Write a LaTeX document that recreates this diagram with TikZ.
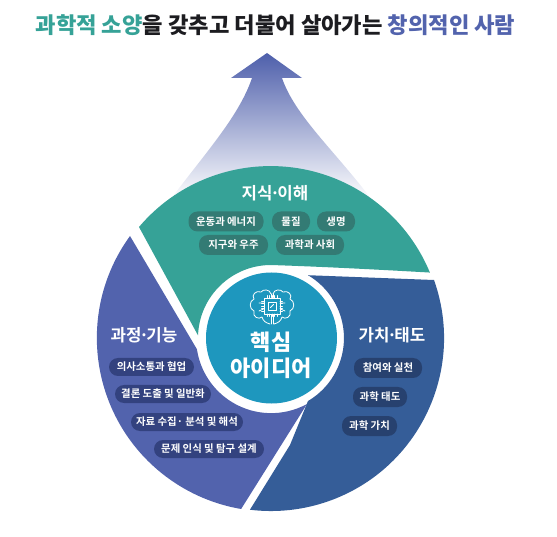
\documentclass[tikz,border=0pt]{standalone}
\usepackage{fontspec}
\setmainfont{Noto Sans CJK KR}[BoldFont={Noto Sans CJK KR Bold}]
\newfontfamily\heavyfont{Noto Sans CJK KR Black}
\definecolor{teal1}{HTML}{36A297}
\definecolor{purp1}{HTML}{5263AD}
\definecolor{blue1}{HTML}{355D98}
\definecolor{core1}{HTML}{1E97BE}
\definecolor{tealp}{HTML}{337B74}
\definecolor{purpp}{HTML}{33427F}
\definecolor{bluep}{HTML}{27416F}
\definecolor{arrowc}{HTML}{4E5FAB}
\definecolor{titlek}{HTML}{1C1C20}
\newcommand{\middot}{\hspace{-2.6pt}·\hspace{-2.6pt}}
\tikzset{
  pillbase/.style={rounded corners=9pt,inner sep=0pt,minimum height=20pt,text=white,font=\fontsize{10.4}{11}\selectfont\bfseries},
  tealpill/.style={pillbase,fill=tealp},
  purppill/.style={pillbase,fill=purpp,minimum height=18pt},
  bluepill/.style={pillbase,fill=bluep},
  heading/.style={text=white,inner sep=0pt,font=\fontsize{16.8}{18}\selectfont\bfseries},
  core/.style={text=white,inner sep=0pt,font=\fontsize{22}{24}\selectfont\heavyfont},
  iconline/.style={draw=white,line width=0.8pt,line cap=round,line join=round}
}
\begin{document}
\begin{tikzpicture}[x=1pt,y=1pt]
\useasboundingbox (0,0) rectangle (557,536);
% arrow
\shade[top color=arrowc,bottom color=white,shading angle=0]
  (267,483) -- (302,458) -- (282,458)
  .. controls (295,420) and (335,385) .. (372,336)
  -- (170,336)
  .. controls (207,385) and (239,420) .. (252,458)
  -- (231,458) -- cycle;
% sectors
\coordinate (C) at (271,198);
\fill[teal1] (139,309) arc[start angle=139.7,end angle=22.5,radius=172.5]
  .. controls (385,266) and (330,269) .. (271,271)
  arc[start angle=90,end angle=178,radius=73] -- cycle;
\fill[purp1] (130,300) arc[start angle=144,end angle=260.3,radius=173.5]
  -- (307,132) arc[start angle=298.6,end angle=188.5,radius=75] -- cycle;
\fill[blue1] (434,256) arc[start angle=19.6,end angle=-97,radius=173]
  -- (290,91) -- (308,135) arc[start angle=-59.5,end angle=59.5,radius=73] -- cycle;
\node[circle,fill=core1,draw=none,minimum size=131pt,inner sep=0pt] (core) at (271.5,198) {};
% icon
\begin{scope}[shift={(272,230)}]
\foreach \s in {1,-1}{
  \begin{scope}[xscale=\s]
  \draw[iconline] (1,12) .. controls (2,17) and (9,17) .. (11,14)
    .. controls (16,16) and (21,11) .. (18,7)
    .. controls (23,5) and (23,-3) .. (18,-5)
    .. controls (20,-11) and (13,-14) .. (10,-11)
    .. controls (9,-15) and (6,-17) .. (2,-18);
  \draw[iconline] (1,12) -- (1,8.5);
  \draw[iconline] (1,-18) -- (1,-8.5);
  \draw[iconline] (8.5,3) -- (13,3) (8.5,-3) -- (13,-5);
  \end{scope}}
\draw[iconline] (-8,-8) rectangle (8,8);
\draw[iconline] (-4,-4) rectangle (4,4);
\draw[iconline] (-1.5,-1.5) -- (1.5,1.5);
\foreach \p in {-5,-2.5,0,2.5,5}{
  \draw[iconline,line width=0.6pt] (\p,8) -- (\p,10.5) (\p,-8) -- (\p,-10.5) (8,\p) -- (10.5,\p) (-8,\p) -- (-10.5,\p);}
\end{scope}
% title
\node[inner sep=0pt,font=\fontsize{22.2}{25}\selectfont\heavyfont] (title) at (275.5,511)
 {\textcolor{teal1}{과학적 소양}\textcolor{titlek}{을 갖추고 더불어 살아가는} \textcolor{purp1}{창의적인 사람}};
% labels
\node[heading] (h1) at (275,343) {지식\middot 이해};
\node[heading] (h2) at (144,201) {과정\middot 기능};
\node[heading] (h3) at (392,201) {가치\middot 태도};
\node[core] (c1) at (271,194) {핵심};
\node[core] (c2) at (271,168) {아이디어};
% pills
\node[tealpill,minimum width=75pt] (a1) at (226,314.5) {운동과 에너지};
\node[tealpill,minimum width=38pt] (a2) at (291,314.5) {물질};
\node[tealpill,minimum width=38pt] (a3) at (336,314.5) {생명};
\node[tealpill,minimum width=69pt] (a4) at (233.5,291) {지구와 우주};
\node[tealpill,minimum width=68pt] (a5) at (310,291) {과학과 사회};
\node[purppill,minimum width=85pt] (b1) at (151.5,169) {의사소통과 협업};
\node[purppill,minimum width=96pt] (b2) at (163,142) {결론 도출 및 일반화};
\node[purppill,minimum width=112pt] (b3) at (187,114) {자료 수집· 분석 및 해석};
\node[purppill,minimum width=110pt] (b4) at (209,87) {문제 인식 및 탐구 설계};
\node[bluepill,minimum width=68pt] (d1) at (388,168) {참여와 실천};
\node[bluepill,minimum width=54pt] (d2) at (380,139) {과학 태도};
\node[bluepill,minimum width=55pt] (d3) at (369.5,110) {과학 가치};
\end{tikzpicture}
\end{document}
